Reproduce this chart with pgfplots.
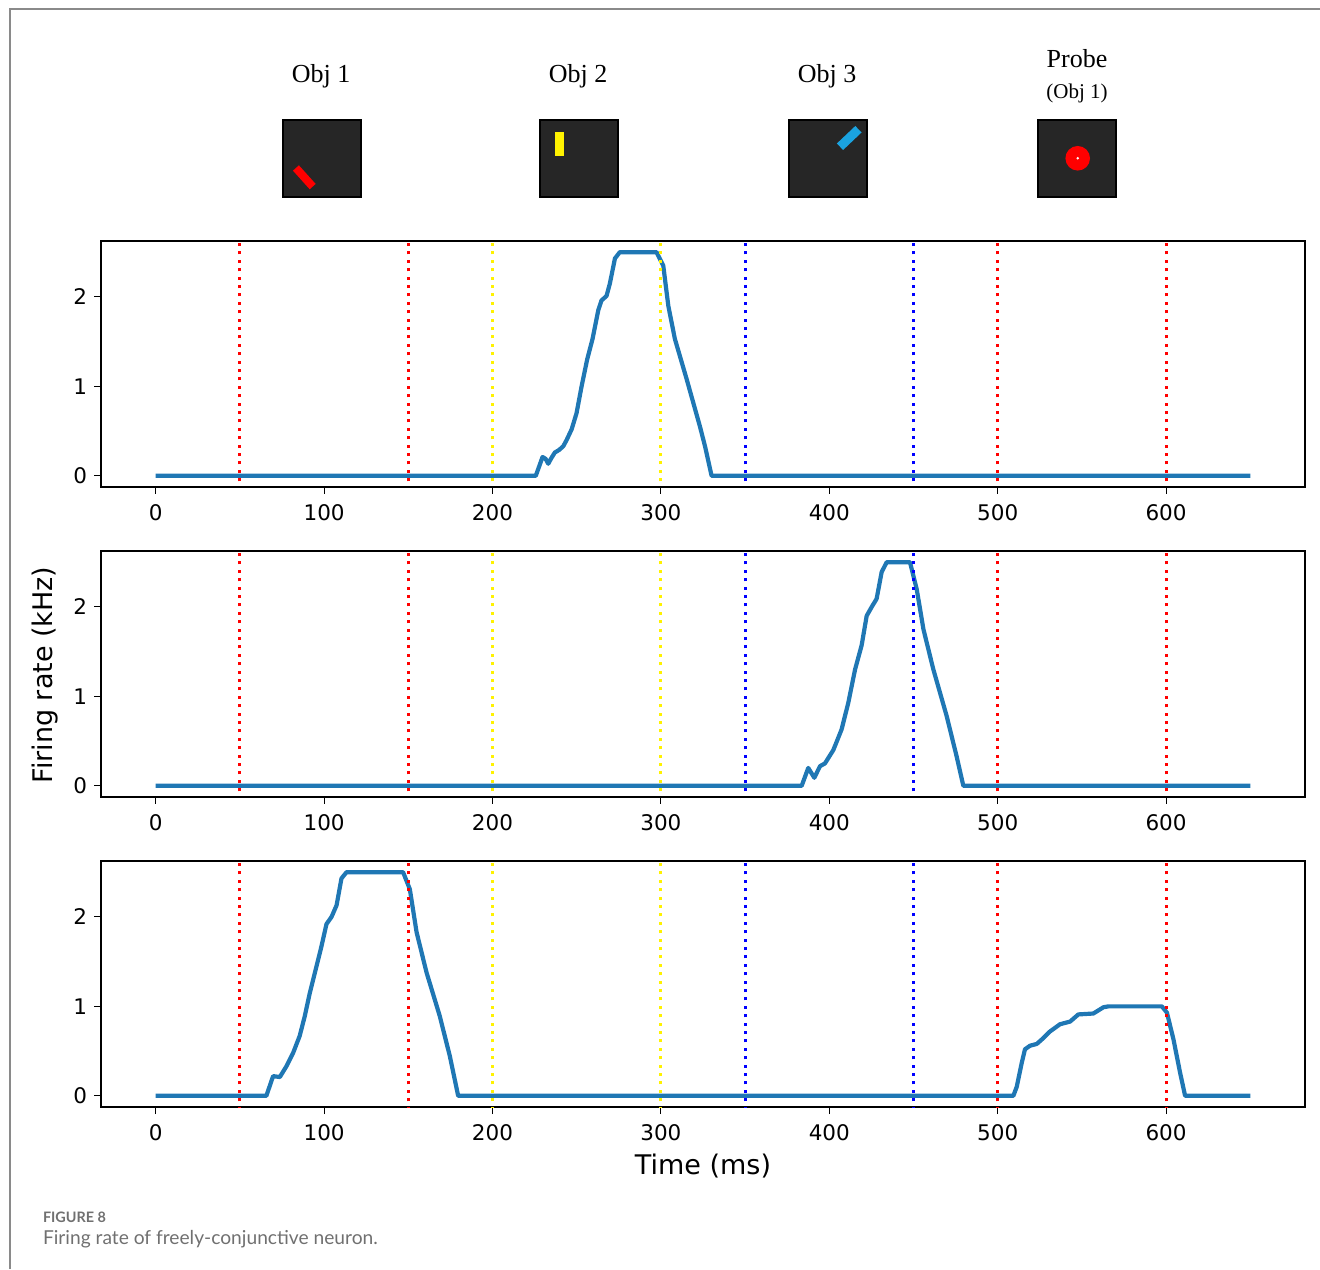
\documentclass[border=0pt]{standalone}
\usepackage{pgfplots}
\pgfplotsset{compat=1.18}
\usepackage{fontspec}
\newfontfamily\dejavu{DejaVu Sans}
\newfontfamily\tnr{Liberation Serif}
\newfontfamily\capfont{Lato}
\definecolor{mplblue}{HTML}{1F77B4}
\definecolor{objcyan}{HTML}{1AA3E0}
\definecolor{boxfill}{HTML}{262626}
\definecolor{framegray}{HTML}{8A8A8A}
\definecolor{capgray}{HTML}{707070}

\pgfplotsset{
  panel/.style={
    scale only axis, width=602pt, height=123pt,
    anchor=south west,
    xmin=-32.5, xmax=682.5, ymin=-0.125, ymax=2.625,
    xtick={0,100,200,300,400,500,600},
    ytick={0,1,2},
    tick align=outside, tick pos=left,
    major tick length=3.5pt,
    tick style={black, line width=0.5pt},
    axis line style={black, line width=0.6pt},
    ticklabel style={font=\dejavu\fontsize{10.75}{12}\selectfont},
    xticklabel style={yshift=-1.5pt},
    /pgf/number format/assume math mode=true,
    clip=true,
  },
  curve/.style={mplblue, line width=2.1pt, line join=round},
  vl/.style={line width=1.5pt, dash pattern=on 1.5pt off 2.7pt},
}

\begin{document}
\begin{tikzpicture}
\useasboundingbox (0,0) rectangle (660pt,634.5pt);
% frame
\draw[framegray, line width=1pt] (4.75pt,0pt) -- (4.75pt,629.75pt) -- (660pt,629.75pt);

% icons
\fill[boxfill, draw=black, line width=0.6pt] (141.5pt,536pt) rectangle (180.5pt,574.5pt);
\fill[boxfill, draw=black, line width=0.6pt] (270pt,536pt) rectangle (309pt,574.5pt);
\fill[boxfill, draw=black, line width=0.6pt] (394.5pt,536pt) rectangle (433.5pt,574.5pt);
\fill[boxfill, draw=black, line width=0.6pt] (519pt,536pt) rectangle (558pt,574.5pt);
\fill[red, rotate around={-48:(152.15pt,545.85pt)}] (145.9pt,543.85pt) rectangle (158.4pt,547.85pt);
\fill[yellow] (277.5pt,556.65pt) rectangle (282pt,568.65pt);
\fill[objcyan, rotate around={43.5:(424.6pt,565.5pt)}] (418.25pt,563.25pt) rectangle (430.95pt,567.75pt);
\fill[red] (538.85pt,555.35pt) circle (6.15pt);
\fill[white] (538.85pt,555.35pt) circle (0.7pt);

\node[font=\tnr\fontsize{13}{15}\selectfont] at (160.5pt,596.5pt) {Obj 1};
\node[font=\tnr\fontsize{13}{15}\selectfont] at (289pt,596.5pt) {Obj 2};
\node[font=\tnr\fontsize{13}{15}\selectfont] at (413.5pt,596.5pt) {Obj 3};
\node[font=\tnr\fontsize{13}{15}\selectfont] at (538.5pt,605pt) {Probe};
\node[font=\tnr\fontsize{10.5}{12}\selectfont] at (538.5pt,588pt) {(Obj 1)};

% top panel
\begin{axis}[panel, at={(50.5pt,391pt)}]
\addplot[curve] coordinates {
(0,0) (225.7,0) (229.7,0.21) (231.5,0.19) (233.1,0.135) (235,0.2) (237.0,0.26) (239.6,0.29)
(242,0.33) (244.0,0.40) (247.0,0.52) (249.9,0.70) (252.9,1.0) (256.2,1.30) (259.4,1.53)
(262.8,1.85) (264.7,1.96) (267.7,2.01) (269.7,2.15) (272.7,2.43) (275.6,2.50) (297.4,2.50)
(301.4,2.35) (304.4,1.90) (308.3,1.53) (315.3,1.08) (323.2,0.55) (326.2,0.33) (330.1,0) (650,0)};
\addplot[vl, red] coordinates {(50,-1) (50,4)};
\addplot[vl, red] coordinates {(150,-1) (150,4)};
\addplot[vl, yellow] coordinates {(200,-1) (200,4)};
\addplot[vl, yellow] coordinates {(300,-1) (300,4)};
\addplot[vl, blue] coordinates {(350,-1) (350,4)};
\addplot[vl, blue] coordinates {(450,-1) (450,4)};
\addplot[vl, red] coordinates {(500,-1) (500,4)};
\addplot[vl, red] coordinates {(600,-1) (600,4)};
\end{axis}

% middle panel
\begin{axis}[panel, at={(50.5pt,236pt)}]
\addplot[curve] coordinates {
(0,0) (383.6,0) (387.5,0.2) (391.1,0.09) (394.5,0.22) (397.4,0.25) (402.4,0.40) (407.3,0.63)
(411.3,0.93) (415.3,1.30) (419.2,1.57) (422.2,1.90) (425.2,2.0) (428.1,2.09) (431.1,2.39)
(434.1,2.50) (447.9,2.50) (451.9,2.2) (455.9,1.75) (461.8,1.30) (469.7,0.78) (475.6,0.33)
(479.6,0) (650,0)};
\addplot[vl, red] coordinates {(50,-1) (50,4)};
\addplot[vl, red] coordinates {(150,-1) (150,4)};
\addplot[vl, yellow] coordinates {(200,-1) (200,4)};
\addplot[vl, yellow] coordinates {(300,-1) (300,4)};
\addplot[vl, blue] coordinates {(350,-1) (350,4)};
\addplot[vl, blue] coordinates {(450,-1) (450,4)};
\addplot[vl, red] coordinates {(500,-1) (500,4)};
\addplot[vl, red] coordinates {(600,-1) (600,4)};
\end{axis}

% bottom panel
\begin{axis}[panel, at={(50.5pt,81pt)}]
\addplot[curve] coordinates {
(0,0) (65.7,0) (69.7,0.22) (73.7,0.21) (77.6,0.33) (81.6,0.48) (85.5,0.67) (88.5,0.89)
(91.5,1.15) (95.5,1.45) (98.4,1.67) (101.4,1.92) (104.4,2.0) (107.4,2.13) (110.3,2.43)
(113.3,2.50) (146.9,2.50) (150.9,2.31) (154.9,1.83) (160.8,1.38) (168.7,0.89) (174.7,0.44)
(179.6,0) (509.3,0) (511.3,0.10) (514.3,0.37) (516.2,0.52) (519.2,0.56) (523.2,0.58)
(526.2,0.63) (531.1,0.72) (537.0,0.80) (543.0,0.83) (547.9,0.91) (556.8,0.92) (562.8,0.99)
(565.8,1.0) (597.5,1.0) (600.5,0.93) (604.4,0.63) (608.3,0.26) (611.3,0) (650,0)};
\addplot[vl, red] coordinates {(50,-1) (50,4)};
\addplot[vl, red] coordinates {(150,-1) (150,4)};
\addplot[vl, yellow] coordinates {(200,-1) (200,4)};
\addplot[vl, yellow] coordinates {(300,-1) (300,4)};
\addplot[vl, blue] coordinates {(350,-1) (350,4)};
\addplot[vl, blue] coordinates {(450,-1) (450,4)};
\addplot[vl, red] coordinates {(500,-1) (500,4)};
\addplot[vl, red] coordinates {(600,-1) (600,4)};
\end{axis}

% axis labels
\node[font=\dejavu\fontsize{13.5}{15}\selectfont] at (351.5pt,51.5pt) {Time (ms)};
\node[font=\dejavu\fontsize{13.5}{15}\selectfont, rotate=90] at (22.5pt,297pt) {Firing rate (kHz)};

% caption
\node[anchor=base west, inner sep=0pt, text=capgray, font=\capfont\bfseries\fontsize{7.2}{8}\selectfont] at (21.3pt,23.5pt) {FIGURE 8};
\node[anchor=base west, inner sep=0pt, text=capgray, font=\capfont\fontsize{9.6}{11}\selectfont] at (21.3pt,12.5pt) {Firing rate of freely-conjunctive neuron.};
\end{tikzpicture}
\end{document}
